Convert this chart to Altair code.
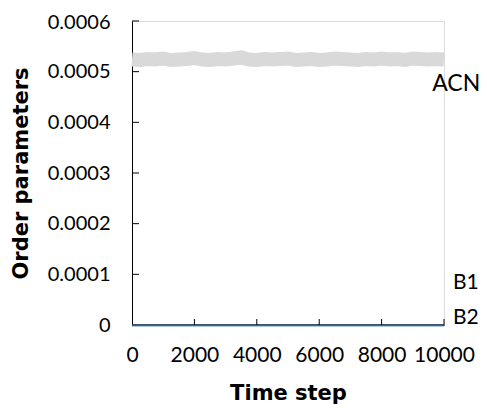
import altair as alt
import pandas as pd

# ACN order parameter (grey noisy band)
acn_time = list(range(0, 10001, 250))
acn_value = [
    0.000524, 0.000523, 0.000525, 0.000524, 0.000526, 0.000523, 0.000524, 0.000525,
    0.000527, 0.000524, 0.000523, 0.000525, 0.000524, 0.000526, 0.000528, 0.000524,
    0.000523, 0.000525, 0.000524, 0.000525, 0.000526, 0.000523, 0.000524, 0.000525,
    0.000523, 0.000524, 0.000526, 0.000525, 0.000524, 0.000523, 0.000525, 0.000524,
    0.000526, 0.000524, 0.000525, 0.000523, 0.000526, 0.000525, 0.000524, 0.000525,
    0.000524,
]

# B1 and B2 order parameters (essentially zero)
b_time = [0, 2000, 4000, 6000, 8000, 10000]
b1_value = [0.0000003, 0.0000003, 0.0000003, 0.0000003, 0.0000003, 0.0000003]
b2_value = [-0.0000008, -0.0000008, -0.0000008, -0.0000008, -0.0000008, -0.0000008]

# Axis ticks
x_tick_values = [0, 2000, 4000, 6000, 8000, 10000]
x_inner_ticks = [2000, 4000, 6000, 8000, 10000]
y_tick_values = [0, 0.0001, 0.0002, 0.0003, 0.0004, 0.0005, 0.0006]
y_inner_ticks = [0.0001, 0.0002, 0.0003, 0.0004, 0.0005, 0.0006]

# Series labels
acn_label = ["ACN"]
acn_label_time = [9620]
acn_label_value = [0.000476]
b_label = ["B1", "B2"]
b_label_time = [10290, 10290]
b_label_value = [0.0000829, 0.0000138]

W, H = 312, 304

acn_df = pd.DataFrame({"time": acn_time, "value": acn_value})
b1_df = pd.DataFrame({"time": b_time, "value": b1_value})
b2_df = pd.DataFrame({"time": b_time, "value": b2_value})
xt_df = pd.DataFrame({"time": x_inner_ticks})
yt_df = pd.DataFrame({"value": y_inner_ticks})
acn_lab_df = pd.DataFrame({"time": acn_label_time, "value": acn_label_value, "label": acn_label})
b_lab_df = pd.DataFrame({"time": b_label_time, "value": b_label_value, "label": b_label})

xscale = alt.Scale(domain=[0, 10000], nice=False, zero=False)
yscale = alt.Scale(domain=[0, 0.0006], nice=False)

xaxis = alt.Axis(
    title="Time step", values=x_tick_values, format="d", grid=False,
    ticks=False, tickSize=0, domainColor="black", domainWidth=1,
    labelFont="Lato", labelFontSize=21, labelColor="black",
    labelPadding=30, labelBaseline="middle", labelFlush=False,
    titleFont="DejaVu Sans", titleFontWeight="bold", titleFontSize=21,
    titleColor="black", titleX=W / 2, titleY=68, titleBaseline="middle",
    titleAlign="center",
)
yaxis = alt.Axis(
    title="Order parameters", values=y_tick_values, grid=False,
    labelExpr="datum.value == 0 ? '0' : format(datum.value, '.4f')",
    labelOffset={"condition": {"test": "datum.value > 0.00059", "value": 1}, "value": 0},
    ticks=False, tickSize=0, domainColor="black", domainWidth=1,
    labelFont="Lato", labelFontSize=20, labelColor="black",
    labelPadding=22, labelBaseline="middle", labelAlign="right", labelFlush=False,
    titleFont="DejaVu Sans", titleFontWeight="bold", titleFontSize=21,
    titleColor="black", titleX=-111, titleY=H / 2, titleBaseline="middle",
    titleAlign="center", titleAngle=270,
)

X = alt.X("time:Q", scale=xscale, axis=xaxis)
Y = alt.Y("value:Q", scale=yscale, axis=yaxis)

acn = alt.Chart(acn_df).mark_line(color="#D9D9D9", strokeWidth=14).encode(x=X, y=Y)
b2 = alt.Chart(b2_df).mark_line(color="#5B9BD5", strokeWidth=2).encode(x=X, y=Y)
b1 = alt.Chart(b1_df).mark_line(color="#1F2A44", strokeWidth=1.2).encode(x=X, y=Y)

xticks = alt.Chart(xt_df).mark_rule(color="black", strokeWidth=1).encode(
    x=X, y=alt.value(H), y2=alt.value(H - 6)
)
yticks = alt.Chart(yt_df).mark_rule(color="black", strokeWidth=1).encode(
    y=Y, x=alt.value(0), x2=alt.value(7)
)

acn_labels = alt.Chart(acn_lab_df).mark_text(
    font="Lato", fontSize=23, color="black", align="left", baseline="middle"
).encode(x=X, y=Y, text="label:N")
b_labels = alt.Chart(b_lab_df).mark_text(
    font="Lato", fontSize=21, color="black", align="left", baseline="middle"
).encode(x=X, y=Y, text="label:N")

chart = alt.layer(acn, b2, b1, xticks, yticks, acn_labels, b_labels).properties(
    width=W, height=H,
    autosize=alt.AutoSizeParams(type="none"),
    padding={"left": 124, "top": 13, "right": 35, "bottom": 81},
).configure_view(stroke=None).configure(background="white")

chart.save("out.html", embed_options={"renderer": "svg", "actions": False})
